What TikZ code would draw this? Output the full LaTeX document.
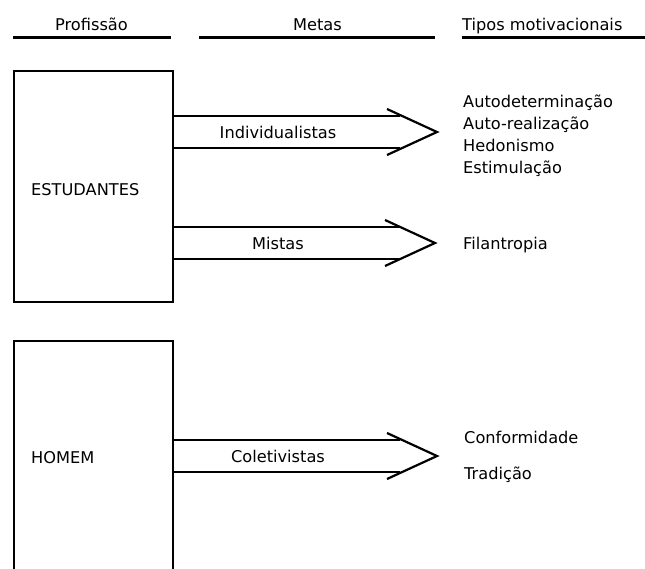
\documentclass[tikz,border=0pt]{standalone}
\usepackage{fontspec}
\setmainfont{DejaVu Sans}
\usetikzlibrary{calc}
\begin{document}
\begin{tikzpicture}[x=1pt,y=-1pt,
  txt/.style={font=\fontsize{16.2}{19}\selectfont, inner sep=0pt},
  rule/.style={line width=2.4pt},
  frame/.style={line width=1.8pt},
  shaft/.style={line width=2pt},
  head/.style={line width=2.2pt, line join=miter}]
\useasboundingbox (0,0) rectangle (645,568);

% column headings with their rules
\node[txt, anchor=base] (hprof) at (91.5,30) {Profissão};
\node[txt, anchor=base] (hmetas) at (317.5,30) {Metas};
\node[txt, anchor=base west] (htipos) at (462,30) {Tipos motivacionais};
\draw[rule] (13,37.5) -- (171,37.5);
\draw[rule] (199,37.5) -- (435,37.5);
\draw[rule] (462,37.5) -- (645,37.5);

% profession boxes
\node[draw, frame, minimum width=159pt, minimum height=231pt, inner sep=0pt] (est) at (93.5,186.5) {};
\node[txt, anchor=base west] (estlbl) at (31,195) {ESTUDANTES};
\coordinate (homtl) at (14,341);
\coordinate (homtr) at (173,341);
\draw[frame] (homtl |- 0,570) -- (homtl) -- (homtr) -- (homtr |- 0,570);
\node[txt, anchor=base west] (homlbl) at (31,463) {HOMEM};

% goal arrows: two shafts and an open chevron head
\newcommand\goalarrow[5]{% #1 upper y, #2 lower y, #3 tip x, #4 name, #5 label
  \coordinate (#4a) at (173,#1);
  \coordinate (#4b) at (173,#2);
  \coordinate (#4t) at (#3,{(#1+#2)/2});
  \draw[shaft] (#4a) -- ++(227,0);
  \draw[shaft] (#4b) -- ++(227,0);
  \draw[head] ($(#4t)+(-50,-23)$) -- (#4t) -- ($(#4t)+(-50,23)$);
  \node[txt, anchor=base] (#4l) at (278,{(#1+#2)/2+6}) {#5};
}
\goalarrow{116}{148}{437}{ind}{Individualistas}
\goalarrow{227}{259}{435}{mis}{Mistas}
\goalarrow{440}{472}{437}{col}{Coletivistas}

% motivational types
\node[txt, anchor=base west] (t1) at (463,107) {Autodeterminação};
\node[txt, anchor=base west] (t2) at (463,129) {Auto-realização};
\node[txt, anchor=base west] (t3) at (463,151) {Hedonismo};
\node[txt, anchor=base west] (t4) at (463,173) {Estimulação};
\node[txt, anchor=base west] (t5) at (463,249) {Filantropia};
\node[txt, anchor=base west] (t6) at (464,443) {Conformidade};
\node[txt, anchor=base west] (t7) at (464,479) {Tradição};
\end{tikzpicture}
\end{document}
